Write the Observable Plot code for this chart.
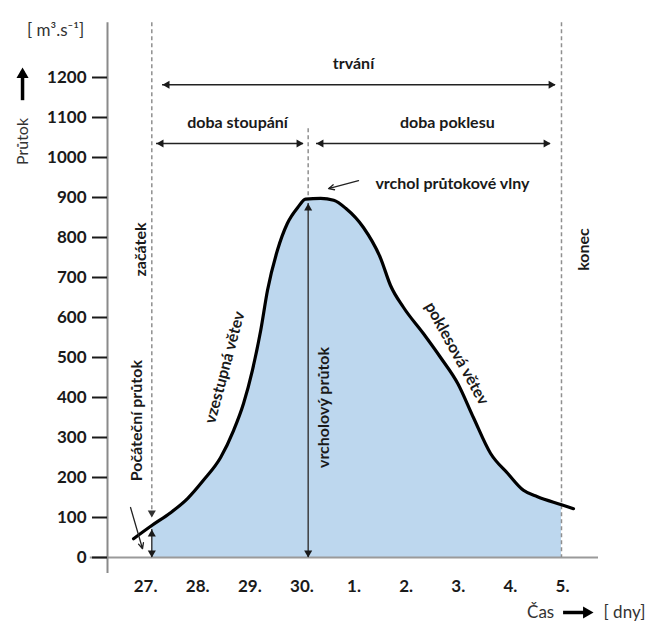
<!DOCTYPE html>
<html><head><meta charset="utf-8">
<script src="https://cdn.jsdelivr.net/npm/d3@7"></script>
<script src="https://cdn.jsdelivr.net/npm/@observablehq/plot@0.6"></script>
<style>
body{margin:0;background:#fff}
#chart{position:relative;width:647px;height:625px}
</style>
</head><body><div id="chart"></div>
<script>
// ---- data ----
const dayTicks = [0,1,2,3,4,5,6,7,8];
const dayLabels = ["27.","28.","29.","30.","1.","2.","3.","4.","5."];
const flowTicks = [0,100,200,300,400,500,600,700,800,900,1000,1100,1200];
const curveDays = [-0.23,0.12,0.48,0.81,1.11,1.44,1.69,1.88,2.05,2.21,2.34,2.53,2.72,2.92,3.07,3.36,3.61,3.84,4.18,4.51,4.70,4.95,5.33,5.66,5.99,6.29,6.62,6.95,7.25,7.52,7.98,8.21];
const curveFlow = [47,80,112,148,193,250,318,385,468,568,668,768,835,875,896,898,893,873,825,748,680,625,560,500,435,350,260,210,168,152,132,122];
const startDay = 0.12, peakDay = 3.12, endDay = 7.98;
const peakFlow = 897;

const curve = curveDays.map((d,i)=>({day:d, flow:curveFlow[i]}));
const wave = curve.filter(d => d.day >= startDay && d.day <= endDay);

// ---- annotation layout ----
const labels = [
  {t:"trvání", x:3.99, y:1235, r:0},
  {t:"doba stoupání", x:1.765, y:1087, r:0},
  {t:"doba poklesu", x:5.79, y:1087, r:0},
  {t:"vrcholový průtok", x:3.415, y:375, r:-90},
  {t:"vzestupná větev", x:1.52, y:475, r:-75},
  {t:"poklesová větev", x:5.97, y:510, r:61},
  {t:"začátek", x:-0.096, y:770, r:-90},
  {t:"Počáteční průtok", x:-0.17, y:342, r:-90},
  {t:"konec", x:8.40, y:770, r:-90}
];
const hArrows = [ // horizontal double arrows
  {y:1182, x1:0.326, x2:7.866},
  {y:1035, x1:0.211, x2:3.03},
  {y:1035, x1:3.28, x2:7.77}
];
const vArrows = [ // vertical double arrows
  {x:peakDay, y1:0, y2:885},
  {x:startDay, y1:0, y2:70}
];
const dashed = [
  {x:startDay, y1:1337, y2:100},
  {x:endDay, y1:1337, y2:0},
  {x:peakDay, y1:1072, y2:peakFlow}
];
const pointers = [
  {x1:4.086, y1:942, x2:3.511, y2:922},
  {x1:-0.288, y1:125, x2:-0.058, y2:22}
];

const ink = "#1a1a1a";
const F = "Lato, 'Open Sans', sans-serif";
const tri = (data, opts) => Plot.dot(data, {symbol:"triangle", r:3, fill:ink, stroke:"none", ...opts});

const chart = Plot.plot({
  width: 647, height: 625,
  marginTop: 77, marginBottom: 68, marginLeft: 107, marginRight: 49,
  style: {fontFamily: F, background: "#fff", color: ink},
  x: {domain: [-0.73, 8.69], label: null},
  y: {domain: [0, 1200], label: null},
  marks: [
    Plot.areaY(wave, {x:"day", y:"flow", fill:"#bdd7ee", curve:"monotone-x"}),
    Plot.ruleY([0], {x1:-1.06, x2:8.69, stroke:"#9a9a9a", strokeWidth:2}),
    Plot.ruleX([-0.73], {y1:-40, y2:1337, stroke:"#8a8a8a", strokeWidth:2}),
    Plot.axisY({ticks: flowTicks, tickFormat: d => String(d), tickSize:15, tickPadding:6, fontSize:17, fontWeight:"bold", strokeWidth:2, color:ink, label:null}),
    Plot.axisX({ticks: dayTicks, tickFormat: i => dayLabels[i], tickSize:0, tickPadding:22, fontSize:17, fontWeight:"bold", color:ink, label:null}),
    // dashed guides
    Plot.ruleX(dashed, {x:"x", y1:"y1", y2:"y2", stroke:"#8f8f8f", strokeWidth:1.5, strokeDasharray:"4,3"}),
    tri([dashed[0]], {x:"x", y:"y2", rotate:180, dy:-4.6, fill:"#333"}),
    // the hydrograph
    Plot.line(curve, {x:"day", y:"flow", stroke:"#000", strokeWidth:3.2, curve:"monotone-x"}),
    // double arrows
    Plot.ruleY(hArrows, {y:"y", x1:"x1", x2:"x2", stroke:"#222", strokeWidth:1.4}),
    tri(hArrows, {x:"x1", y:"y", rotate:-90, dx:4.6}),
    tri(hArrows, {x:"x2", y:"y", rotate:90, dx:-4.6}),
    Plot.ruleX(vArrows, {x:"x", y1:"y1", y2:"y2", stroke:"#333", strokeWidth:1.4}),
    tri(vArrows, {x:"x", y:"y2", rotate:0, dy:4.6}),
    tri(vArrows, {x:"x", y:"y1", rotate:180, dy:-4.6}),
    Plot.arrow(pointers, {x1:"x1", y1:"y1", x2:"x2", y2:"y2", stroke:"#222", strokeWidth:1.3, headLength:7, headAngle:50}),
    // annotations
    Plot.text(labels, {x:"x", y:"y", text:"t", rotate:"r", fontSize:16, fontWeight:"bold", fill:ink}),
    Plot.text(["vrchol průtokové vlny"], {x:4.41, y:935, text:d=>d, textAnchor:"start", fontSize:16, fontWeight:"bold", fill:ink}),
    // axis titles
    Plot.text(["[ m³.s⁻¹]"], {x:-1.727, y:1317, text:d=>d, fontSize:17, fill:"#333"}),
    Plot.text(["Průtok"], {x:-2.36, y:1040, text:d=>d, rotate:-90, fontSize:16, fill:"#333"}),
    Plot.ruleX([{x:-2.36}], {x:"x", y1:1142, y2:1215, stroke:"#000", strokeWidth:3.5}),
    tri([{x:-2.36, y:1225}], {x:"x", y:"y", r:4.5, rotate:0, dy:7, fill:"#000"}),
    Plot.text(["Čas"], {x:7.58, y:-137.5, text:d=>d, fontSize:17, fill:"#333"}),
    Plot.ruleY([{y:-137.5}], {y:"y", x1:8.02, x2:8.45, stroke:"#000", strokeWidth:3.5}),
    tri([{x:8.595, y:-137.5}], {x:"x", y:"y", r:4.5, rotate:90, dx:-7, fill:"#000"}),
    Plot.text(["[ dny]"], {x:8.787, y:-137.5, text:d=>d, textAnchor:"start", fontSize:17, fill:"#333"})
  ]
});
document.getElementById("chart").appendChild(chart);
</script>
</body></html>
